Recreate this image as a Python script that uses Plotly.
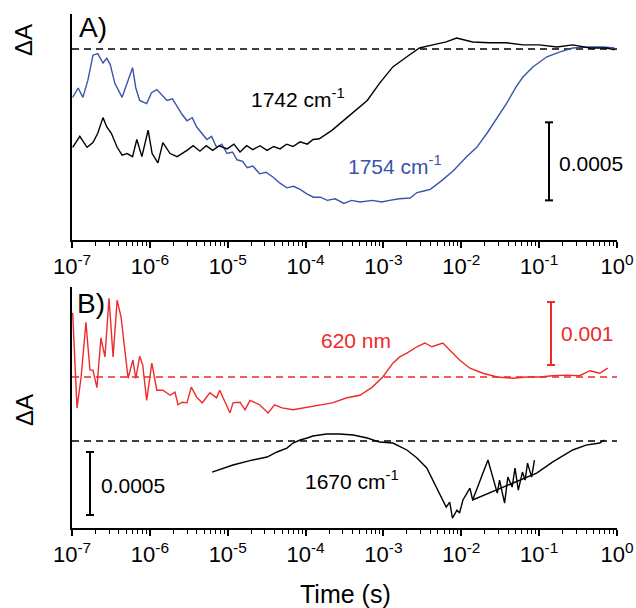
import plotly.graph_objects as go

# ---------------- data (time in s, dA in units of 1e-3) ----------------
t_1742 = [1.02e-7, 1.26e-7, 1.56e-7, 1.86e-7, 2.14e-7, 2.5e-7, 2.8e-7, 3.2e-7, 3.8e-7, 4.4e-7,
          5.1e-7, 6.0e-7, 6.8e-7, 7.9e-7, 9.5e-7, 1.07e-6, 1.27e-6, 1.47e-6, 1.82e-6, 2.24e-6,
          3.0e-6, 3.6e-6, 4.4e-6, 5.3e-6, 6.4e-6, 7.8e-6, 9.8e-6, 1.2e-5, 1.44e-5, 1.75e-5,
          2.1e-5, 2.6e-5, 3.2e-5, 3.9e-5, 4.7e-5, 5.7e-5, 6.9e-5, 8.5e-5, 1.05e-4, 1.25e-4,
          1.5e-4, 2.2e-4, 3.4e-4, 5.0e-4, 6.2e-4, 8.9e-4, 1.32e-3, 2.0e-3, 2.9e-3, 4.3e-3,
          6.4e-3, 8.7e-3, 1.4e-2, 2.3e-2, 3.8e-2, 6.2e-2, 0.10, 0.17, 0.27, 0.45, 0.74, 0.93]
dA_1742 = [-0.63, -0.56, -0.63, -0.60, -0.54, -0.44, -0.50, -0.54, -0.63, -0.68,
           -0.67, -0.69, -0.58, -0.69, -0.52, -0.67, -0.73, -0.60, -0.67, -0.69,
           -0.65, -0.62, -0.655, -0.62, -0.65, -0.62, -0.64, -0.61, -0.66, -0.62,
           -0.645, -0.62, -0.65, -0.625, -0.64, -0.61, -0.625, -0.595, -0.61, -0.58,
           -0.575, -0.52, -0.44, -0.37, -0.33, -0.22, -0.115, -0.05, 0.006, 0.026,
           0.045, 0.07, 0.045, 0.04, 0.04, 0.026, 0.026, 0.013, 0.026, 0.006, 0.006, -0.006]

t_1754 = [1.02e-7, 1.2e-7, 1.38e-7, 1.6e-7, 1.86e-7, 2.14e-7, 2.5e-7, 2.8e-7, 3.1e-7, 3.55e-7,
          4.4e-7, 5.1e-7, 6.0e-7, 6.6e-7, 7.4e-7, 9.1e-7, 1.05e-6, 1.23e-6, 1.45e-6, 1.66e-6,
          1.95e-6, 2.24e-6, 2.6e-6, 3.0e-6, 3.5e-6, 4.0e-6, 4.6e-6, 5.4e-6, 6.2e-6, 7.2e-6,
          8.4e-6, 9.8e-6, 1.15e-5, 1.32e-5, 1.55e-5, 1.78e-5, 2.1e-5, 2.57e-5, 3.1e-5, 3.8e-5,
          4.7e-5, 5.75e-5, 7e-5, 8.5e-5, 1.05e-4, 1.26e-4, 1.55e-4, 1.9e-4, 2.4e-4, 3.1e-4,
          3.9e-4, 5.0e-4, 7.2e-4, 9.5e-4, 1.2e-3, 1.6e-3, 2.2e-3, 2.7e-3, 3.3e-3, 4.0e-3,
          5.4e-3, 7.9e-3, 1.17e-2, 1.58e-2, 2.14e-2, 2.9e-2, 3.8e-2, 5.1e-2, 6.2e-2, 8.3e-2,
          0.126, 0.182, 0.27, 0.45, 0.66, 0.93]
dA_1754 = [-0.31, -0.25, -0.31, -0.20, -0.04, -0.03, -0.09, -0.06, -0.10, -0.22,
           -0.31, -0.22, -0.12, -0.25, -0.33, -0.35, -0.28, -0.26, -0.30, -0.33,
           -0.32, -0.37, -0.42, -0.46, -0.44, -0.50, -0.54, -0.58, -0.56, -0.63,
           -0.61, -0.67, -0.66, -0.71, -0.72, -0.76, -0.75, -0.80, -0.79, -0.82,
           -0.86, -0.89, -0.88, -0.90, -0.93, -0.95, -0.95, -0.97, -0.96, -0.99,
           -0.97, -0.98, -0.97, -0.98, -0.97, -0.96, -0.955, -0.92, -0.91, -0.90,
           -0.85, -0.78, -0.69, -0.63, -0.54, -0.44, -0.35, -0.24, -0.18, -0.115,
           -0.05, -0.02, 0.006, 0.013, 0.013, 0.006]

t_620 = [1.02e-7, 1.16e-7, 1.31e-7, 1.51e-7, 1.70e-7, 1.86e-7, 2.09e-7, 2.35e-7, 2.65e-7, 2.99e-7,
         3.37e-7, 3.8e-7, 4.27e-7, 5.25e-7, 6.06e-7, 6.6e-7, 7.4e-7, 8.1e-7, 9.1e-7, 1.06e-6,
         1.23e-6, 1.47e-6, 1.82e-6, 2.1e-6, 2.3e-6, 2.6e-6, 3.0e-6, 3.4e-6, 4.0e-6, 4.7e-6,
         5.9e-6, 7.2e-6, 7.9e-6, 9.1e-6, 1.07e-5, 1.17e-5, 1.44e-5, 1.67e-5, 1.93e-5, 2.57e-5,
         3.3e-5, 4.0e-5, 5.0e-5, 6.9e-5, 1.05e-4, 1.5e-4, 2.2e-4, 3.4e-4, 5.0e-4, 7.2e-4,
         9.8e-4, 1.32e-3, 1.62e-3, 2.0e-3, 2.7e-3, 3.4e-3, 4.2e-3, 5.8e-3, 7.1e-3, 9.5e-3,
         1.29e-2, 1.9e-2, 2.9e-2, 4.6e-2, 6.9e-2, 0.102, 0.148, 0.224, 0.33, 0.45, 0.60, 0.76]
dA_620 = [1.02, -0.49, 0.0, 0.87, 0.11, 0.11, -0.17, 0.62, 0.32, 1.25,
          0.32, 1.22, 0.95, -0.02, 0.27, -0.02, 0.33, 0.19, -0.37, 0.22,
          -0.21, -0.21, -0.29, -0.24, -0.44, -0.40, -0.41, -0.16, -0.32, -0.41,
          -0.25, -0.33, -0.21, -0.37, -0.57, -0.41, -0.40, -0.52, -0.37, -0.44,
          -0.57, -0.44, -0.49, -0.52, -0.48, -0.44, -0.41, -0.33, -0.29, -0.16,
          0.0, 0.22, 0.32, 0.38, 0.48, 0.54, 0.48, 0.54, 0.43, 0.27,
          0.14, 0.06, 0.0, -0.02, 0.0, 0.0, 0.02, 0.03, 0.02, 0.10, 0.06, 0.14]

t_1670 = [6.3e-6, 1.17e-5, 2.1e-5, 3.2e-5, 4.3e-5, 5.75e-5, 6.9e-5, 8.5e-5, 1.05e-4, 1.24e-4,
          1.86e-4, 2.75e-4, 4.1e-4, 6.2e-4, 8.9e-4, 1.32e-3, 2.0e-3, 2.7e-3, 3.6e-3, 4.3e-3,
          5.2e-3, 6.4e-3, 7.1e-3, 7.7e-3, 8.8e-3, 9.5e-3, 1.05e-2, 1.2e-2, 1.29e-2, 1.4e-2,
          9.3e-2, 0.148, 0.27, 0.40, 0.60, 0.69]
dA_1670 = [-0.246, -0.19, -0.15, -0.127, -0.087, -0.056, -0.016, 0.008, 0.024, 0.04,
           0.056, 0.056, 0.048, 0.024, -0.008, -0.016, -0.071, -0.135, -0.214, -0.31,
           -0.413, -0.524, -0.484, -0.611, -0.548, -0.571, -0.468, -0.413, -0.373, -0.468,
           -0.254, -0.167, -0.071, -0.032, -0.016, 0.008]

t_1670_noise = [1.4e-2, 2.2e-2, 2.9e-2, 3.1e-2, 3.6e-2, 3.96e-2, 4.5e-2, 4.9e-2, 5.4e-2, 6.1e-2,
                6.6e-2, 7.1e-2, 8.0e-2, 8.7e-2]
dA_1670_noise = [-0.468, -0.151, -0.413, -0.31, -0.492, -0.286, -0.365, -0.214, -0.389, -0.246,
                 -0.31, -0.175, -0.286, -0.151]

t_zero = [1e-7, 1.0]
zero = [0, 0]

tick_vals = [1e-7, 1e-6, 1e-5, 1e-4, 1e-3, 1e-2, 1e-1, 1e0]
tick_text = ["10<sup>-7</sup>", "10<sup>-6</sup>", "10<sup>-5</sup>", "10<sup>-4</sup>",
             "10<sup>-3</sup>", "10<sup>-2</sup>", "10<sup>-1</sup>", "10<sup>0</sup>"]

BLUE = "#3a53ad"
RED = "#ee2a2a"
FONT = "Liberation Sans, Arial, sans-serif"
W, H = 636, 608
ML, MR = 72, 19
PW = W - ML - MR


def px(x, y):
    return (x - ML) / PW, 1 - y / H


fig = go.Figure()
lw = 1.4
dash = "7px,5px"

# top panel
fig.add_trace(go.Scatter(x=t_zero, y=zero, mode="lines", line=dict(color="black", width=1.4, dash=dash),
                         xaxis="x", yaxis="y"))
fig.add_trace(go.Scatter(x=t_1754, y=dA_1754, mode="lines", line=dict(color=BLUE, width=lw),
                         xaxis="x", yaxis="y"))
fig.add_trace(go.Scatter(x=t_1742, y=dA_1742, mode="lines", line=dict(color="black", width=lw),
                         xaxis="x", yaxis="y"))

# bottom panel
fig.add_trace(go.Scatter(x=t_zero, y=zero, mode="lines", line=dict(color="black", width=1.4, dash=dash),
                         xaxis="x2", yaxis="y2"))
fig.add_trace(go.Scatter(x=t_1670, y=dA_1670, mode="lines", line=dict(color="black", width=lw),
                         xaxis="x2", yaxis="y2"))
fig.add_trace(go.Scatter(x=t_1670_noise, y=dA_1670_noise, mode="lines", line=dict(color="black", width=lw),
                         xaxis="x2", yaxis="y2"))
fig.add_trace(go.Scatter(x=t_zero, y=zero, mode="lines", line=dict(color=RED, width=1.4, dash=dash),
                         xaxis="x2", yaxis="y3"))
fig.add_trace(go.Scatter(x=t_620, y=dA_620, mode="lines", line=dict(color=RED, width=lw),
                         xaxis="x2", yaxis="y3"))

xcommon = dict(type="log", range=[-7, 0], tickmode="array", tickvals=tick_vals, ticktext=tick_text,
               showline=True, linewidth=2, linecolor="black", ticks="outside", ticklen=6,
               tickwidth=1.5, tickcolor="black", showgrid=False, zeroline=False,
               tickfont=dict(family=FONT, size=22, color="black"),
               minor=dict(ticks="outside", ticklen=4, tickwidth=1, tickcolor="black",
                          dtick="D1", showgrid=False))
ycommon = dict(showline=True, linewidth=2, linecolor="black", ticks="", showticklabels=False,
               showgrid=False, zeroline=False)

fig.update_layout(
    width=W, height=H,
    margin=dict(l=ML, r=MR, t=0, b=0),
    paper_bgcolor="white", plot_bgcolor="white",
    showlegend=False,
    xaxis=dict(**xcommon, domain=[0, 1], anchor="y"),
    yaxis=dict(**ycommon, domain=[1 - 240 / H, 1 - 14 / H], range=[-1.224, 0.224], anchor="x"),
    xaxis2=dict(**xcommon, domain=[0, 1], anchor="y2"),
    yaxis2=dict(**ycommon, domain=[1 - 528 / H, 1 - 287 / H], range=[-0.690, 1.222], anchor="x2"),
    yaxis3=dict(showline=False, showticklabels=False, ticks="", showgrid=False, zeroline=False,
                domain=[1 - 528 / H, 1 - 287 / H], range=[-2.397, 1.429], overlaying="y2",
                anchor="x2"),
)


# scale bars
def scale_bar(xpix, y0, y1, yref, color):
    xc = (xpix - ML) / PW
    dx = 4 / PW
    fig.add_shape(type="line", xref="paper", yref=yref, x0=xc, x1=xc, y0=y0, y1=y1,
                  line=dict(color=color, width=2))
    for yy in (y0, y1):
        fig.add_shape(type="line", xref="paper", yref=yref, x0=xc - dx, x1=xc + dx, y0=yy, y1=yy,
                      line=dict(color=color, width=2))


scale_bar(549, -0.47, -0.97, "y", "black")
scale_bar(551, 0.19, 1.19, "y3", RED)
scale_bar(90, -0.087, -0.587, "y2", "black")


def label(text, x, y, size, color="black", angle=0):
    xx, yy = px(x, y)
    fig.add_annotation(text=text, x=xx, y=yy, xref="paper", yref="paper", showarrow=False,
                       xanchor="center", yanchor="middle", textangle=angle,
                       font=dict(family=FONT, size=size, color=color))


label("A)", 93, 28, 28)
label("B)", 91, 303, 28)
label("1742 cm<sup>-1</sup>", 298, 98, 21)
label("1754 cm<sup>-1</sup>", 395, 165, 21, BLUE)
label("0.0005", 591, 163, 21)
label("620 nm", 356, 340, 21, RED)
label("0.001", 587, 333, 21, RED)
label("1670 cm<sup>-1</sup>", 352, 480, 21)
label("0.0005", 133, 485, 21)
label("ΔA", 24, 40, 24, angle=-90)
label("ΔA", 24, 410, 24, angle=-90)
label("Time (s)", 345, 594, 25)

fig.write_html("out.html")
